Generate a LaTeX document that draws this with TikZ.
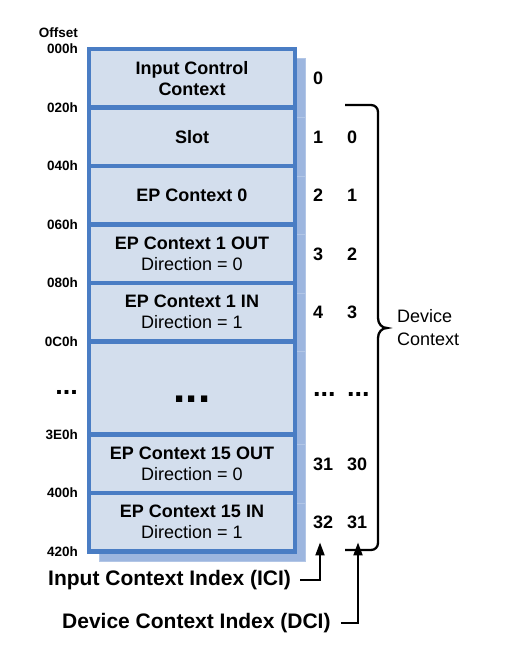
\documentclass[tikz,border=0pt]{standalone}
\usepackage{fontspec}
\setmainfont{Liberation Sans}
\usepackage{tikz}
\usetikzlibrary{arrows.meta, positioning, shadows}

\definecolor{rowfill}{RGB}{211,222,237}
\definecolor{rowedge}{RGB}{74,125,196}
\definecolor{rowshadow}{RGB}{157,182,223}
\definecolor{shadowedge}{RGB}{178,198,230}

\begin{document}
\begin{tikzpicture}[
    x=1pt, y=-1pt,
    ctxrow/.style={
        rectangle,
        draw=rowedge,
        line width=4.6pt,
        fill=rowfill,
        outer sep=0pt,
        inner sep=2pt,
        align=center,
        minimum width=206pt,
        minimum height=58.5pt,
        font=\fontsize{18}{21}\selectfont,
        drop shadow={shadow xshift=10pt, shadow yshift=-10pt, opacity=1,
            fill=rowshadow, draw=shadowedge, line width=1pt}
    },
    offs/.style={font=\fontsize{13.5}{14}\selectfont\bfseries, inner sep=0pt, anchor=east},
    idx/.style={font=\fontsize{18}{18}\selectfont\bfseries, inner sep=0pt, anchor=west,
        text height=13pt, text depth=0pt},
    dots/.style={font=\fontsize{27}{27}\selectfont\bfseries, inner sep=0pt},
    biglabel/.style={font=\fontsize{21}{24}\selectfont\bfseries, inner sep=3pt, anchor=west},
    arrow/.style={-{Triangle[length=13pt, width=9pt]}, line width=2pt},
    brace/.style={line width=2.3pt}
]

\useasboundingbox (0,0) rectangle (520,658);

% context entries
\node[ctxrow, anchor=north] (ctxin) at (192,49) {\textbf{Input Control}\\\textbf{Context}};
\node[ctxrow, below=0pt of ctxin] (slot) {\textbf{Slot}};
\node[ctxrow, below=0pt of slot] (ep0) {\textbf{EP Context 0}};
\node[ctxrow, below=0pt of ep0] (ep1out) {\textbf{EP Context 1 OUT}\\Direction = 0};
\node[ctxrow, below=0pt of ep1out] (ep1in) {\textbf{EP Context 1 IN}\\Direction = 1};
\node[ctxrow, below=0pt of ep1in, minimum height=93pt] (epgap) {};
\node[ctxrow, below=0pt of epgap] (ep15out) {\textbf{EP Context 15 OUT}\\Direction = 0};
\node[ctxrow, below=0pt of ep15out] (ep15in) {\textbf{EP Context 15 IN}\\Direction = 1};

\node[dots, font=\fontsize{44}{44}\selectfont\bfseries, yshift=-11pt] (gapdots) at (epgap) {...};

% offsets
\node[offs, left=11pt of ctxin.north west] (off000) {000h};
\node[offs, above=6pt of off000.north east, anchor=south east] (offhead) {Offset};
\node[offs, left=11pt of ctxin.south west] (off020) {020h};
\node[offs, left=11pt of slot.south west] (off040) {040h};
\node[offs, left=11pt of ep0.south west] (off060) {060h};
\node[offs, left=11pt of ep1out.south west] (off080) {080h};
\node[offs, left=11pt of ep1in.south west] (off0c0) {0C0h};
\node[dots, anchor=east, left=11pt of epgap.west, yshift=-4pt] (offdots) {...};
\node[offs, left=11pt of epgap.south west] (off3e0) {3E0h};
\node[offs, left=11pt of ep15out.south west] (off400) {400h};
\node[offs, left=11pt of ep15in.south west] (off420) {420h};

% context indices
\coordinate (icol) at (313,0);
\coordinate (dcol) at (347,0);

\node[idx] (ici0) at (icol |- ctxin) {0};
\node[idx] (ici1) at (icol |- slot) {1};
\node[idx] (ici2) at (icol |- ep0) {2};
\node[idx] (ici3) at (icol |- ep1out) {3};
\node[idx] (ici4) at (icol |- ep1in) {4};
\node[dots, anchor=west, yshift=-6pt] (icidots) at (icol |- epgap) {...};
\node[idx] (ici31) at (icol |- ep15out) {31};
\node[idx] (ici32) at (icol |- ep15in) {32};

\node[idx] (dci0) at (dcol |- slot) {0};
\node[idx] (dci1) at (dcol |- ep0) {1};
\node[idx] (dci2) at (dcol |- ep1out) {2};
\node[idx] (dci3) at (dcol |- ep1in) {3};
\node[dots, anchor=west, yshift=-6pt] (dcidots) at (dcol |- epgap) {...};
\node[idx] (dci30) at (dcol |- ep15out) {30};
\node[idx] (dci31) at (dcol |- ep15in) {31};

% device context brace
\coordinate (bracetop) at (345,105);
\coordinate (bracebot) at (345,550);
\coordinate (bracetip) at (387,328);
\draw[brace] (bracetop) -- (371,105) .. controls (375,105) and (378,108) .. (378,112)
    -- (378,318) .. controls (378,324) and (382,328) .. (bracetip)
    .. controls (382,328) and (378,332) .. (378,338)
    -- (378,543) .. controls (378,547) and (375,550) .. (371,550) -- (bracebot);
\node[right=10pt of bracetip, align=left, inner sep=0pt, font=\fontsize{18}{23}\selectfont] (devctx) {Device\\Context};

% index labels
\node[biglabel] (icilbl) at (45,580) {Input Context Index (ICI)};
\node[biglabel] (dcilbl) at (59,623) {Device Context Index (DCI)};

\draw[arrow, shorten <=6pt, shorten >=13.5pt] (icilbl.east) -| ([xshift=7pt]ici32.south west);
\draw[arrow, shorten <=7pt, shorten >=13.5pt] (dcilbl.east) -| ([xshift=11pt]dci31.south west);

\end{tikzpicture}
\end{document}
